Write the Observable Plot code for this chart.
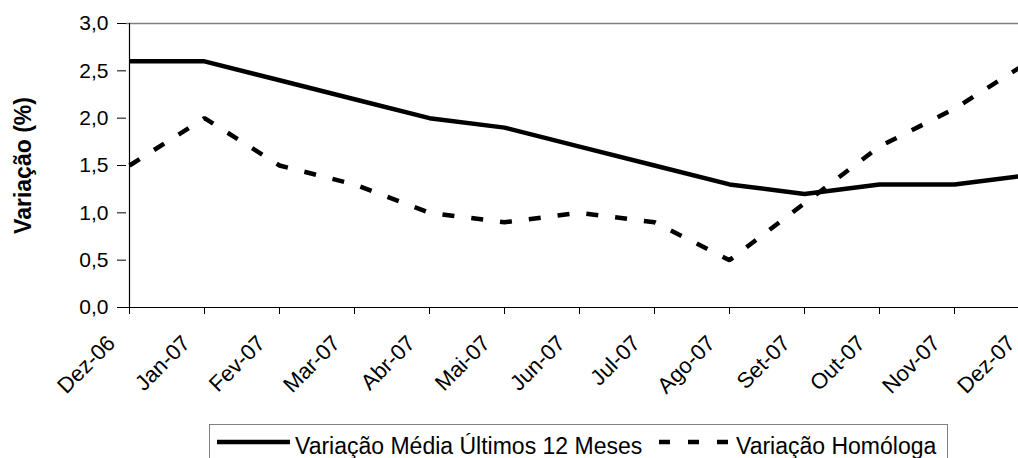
<!DOCTYPE html>
<html>
<head>
<meta charset="utf-8">
<script src="https://cdn.jsdelivr.net/npm/d3@7"></script>
<script src="https://cdn.jsdelivr.net/npm/@observablehq/plot@0.6"></script>
<style>
  html, body { margin: 0; padding: 0; background: #fff; overflow: hidden; }
  #wrap { position: relative; width: 1018px; height: 458px; font-family: "Liberation Sans", Arial, sans-serif; }
  #legend { position: absolute; left: 209px; top: 424px; width: 737px; height: 60px; border: 1px solid #808080; background: #fff; }
</style>
</head>
<body>
<div id="wrap"></div>
<script>
const months = ["Dez-06","Jan-07","Fev-07","Mar-07","Abr-07","Mai-07","Jun-07","Jul-07","Ago-07","Set-07","Out-07","Nov-07","Dez-07"];
const mediaValues = [2.6, 2.6, 2.4, 2.2, 2.0, 1.9, 1.7, 1.5, 1.3, 1.2, 1.3, 1.3, 1.4];
const homologaValues = [1.5, 2.0, 1.5, 1.3, 1.0, 0.9, 1.0, 0.9, 0.5, 1.1, 1.7, 2.1, 2.6];
const seriesNames = ["Variação Média Últimos 12 Meses", "Variação Homóloga"];
const yTicks = [0, 0.5, 1, 1.5, 2, 2.5, 3];
const yLabel = "Variação (%)";

const media = months.map((m, i) => ({month: m, value: mediaValues[i]}));
const homologa = months.map((m, i) => ({month: m, value: homologaValues[i]}));
const fmt = d => d.toFixed(1).replace(".", ",");

const chart = Plot.plot({
  width: 1018,
  height: 424,
  marginLeft: 126,
  marginTop: 23,
  marginBottom: 117,
  marginRight: 0,
  style: {fontFamily: "'Liberation Sans', Arial, sans-serif", color: "#000", background: "#fff"},
  x: {type: "point", domain: months, range: [126, 1032], padding: 0},
  y: {domain: [0, 3], range: [307, 23]},
  marks: [
    Plot.ruleY([3], {stroke: "#808080", strokeWidth: 1.5}),
    Plot.axisY({ticks: yTicks, tickFormat: fmt, tickSize: 9, tickPadding: 9, fontSize: 21, label: null, stroke: "#000"}),
    Plot.axisX({tickSize: 7, tickFormat: () => "", label: null, stroke: "#000"}),
    Plot.text(months, {x: d => d, frameAnchor: "bottom", rotate: -45, textAnchor: "end", dx: -13, dy: 37, fontSize: 22, fill: "#000"}),
    Plot.text([yLabel], {frameAnchor: "left", textAnchor: "middle", dx: -103, rotate: -90, fontSize: 23, fontWeight: "bold", fill: "#000"}),
    Plot.ruleX([months[0]], {stroke: "#000", strokeWidth: 1.2}),
    Plot.ruleY([0], {stroke: "#000", strokeWidth: 1.2}),
    Plot.lineY(homologa, {x: "month", y: "value", stroke: "#000", strokeWidth: 4.5, strokeDasharray: "12,17", strokeLinecap: "butt", strokeLinejoin: "miter"}),
    Plot.lineY(media, {x: "month", y: "value", stroke: "#000", strokeWidth: 4.5, strokeLinecap: "butt", strokeLinejoin: "round"})
  ]
});

const wrap = document.getElementById("wrap");
wrap.appendChild(chart);

const legend = document.createElement("div");
legend.id = "legend";
legend.innerHTML = `
<svg width="737" height="60" style="display:block">
  <line x1="7" x2="80" y1="17" y2="17" stroke="#000" stroke-width="4.5"/>
  <text x="85" y="29" font-size="23" font-family="'Liberation Sans', Arial, sans-serif" fill="#000">${seriesNames[0]}</text>
  <line x1="449" x2="519" y1="17" y2="17" stroke="#000" stroke-width="4.5" stroke-dasharray="11,18"/>
  <text x="526" y="29" font-size="23" font-family="'Liberation Sans', Arial, sans-serif" fill="#000">${seriesNames[1]}</text>
</svg>`;
wrap.appendChild(legend);
</script>
</body>
</html>
